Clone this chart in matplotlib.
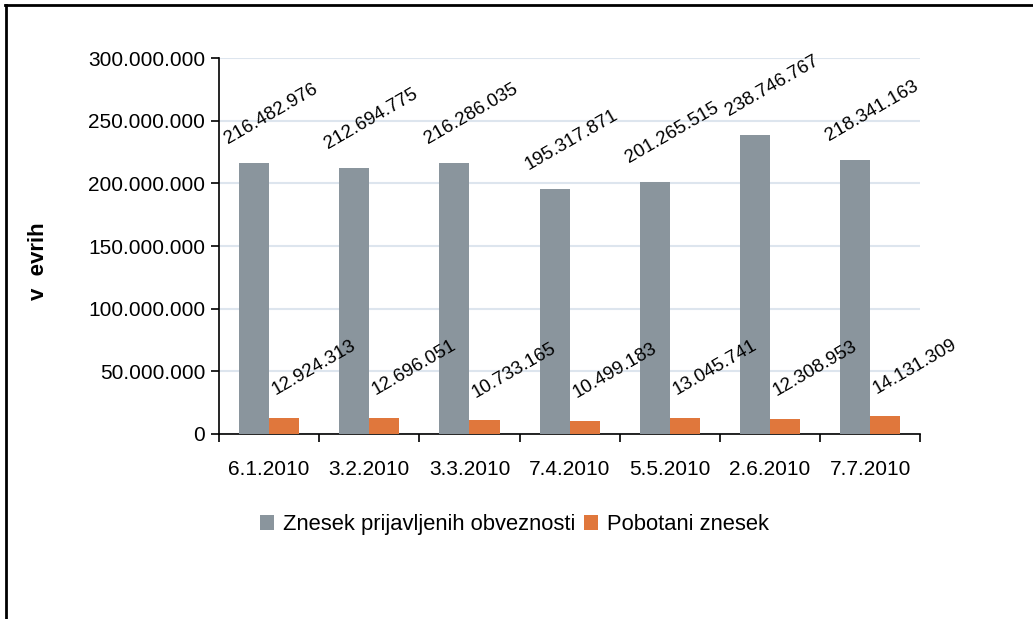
import matplotlib.pyplot as plt
import matplotlib.ticker as mticker
import numpy as np

plt.rcParams['font.family'] = ['Liberation Sans', 'DejaVu Sans']

# Podatki
datumi = ['6.1.2010', '3.2.2010', '3.3.2010', '7.4.2010', '5.5.2010', '2.6.2010', '7.7.2010']
prijavljeno = [216482976, 212694775, 216286035, 195317871, 201265515, 238746767, 218341163]
pobotano = [12924313, 12696051, 10733165, 10499183, 13045741, 12308953, 14131309]
serije = ['Znesek prijavljenih obveznosti', 'Pobotani znesek']
barve = ['#8a959d', '#e0773c']
y_ticks = [0, 50000000, 100000000, 150000000, 200000000, 250000000, 300000000]


def fmt_si(v):
    return f'{v:,.0f}'.replace(',', '.')


fig = plt.figure(figsize=(10.33, 6.19), dpi=100)
ax = fig.add_axes([0.212, 0.299, 0.679, 0.607])

x = np.arange(len(datumi))
w = 0.3
b1 = ax.bar(x - w/2, prijavljeno, w, color=barve[0], label=serije[0], zorder=3)
b2 = ax.bar(x + w/2, pobotano, w, color=barve[1], label=serije[1], zorder=3)

# Oznake podatkov (zasukane)
def oznake(rects, vals, dx, dy):
    for r, v in zip(rects, vals):
        ax.annotate(fmt_si(v), xy=(r.get_x() + r.get_width()/2, r.get_height()),
                    xytext=(dx, dy), textcoords='offset pixels',
                    ha='center', va='center', rotation=30, fontsize=13.5,
                    rotation_mode='anchor', zorder=4)

oznake(b1, prijavljeno, 17, 49)
oznake(b2, pobotano, 30, 50)

ax.set_xlim(-0.5, len(datumi) - 0.5)
ax.set_ylim(0, 300000000)
ax.set_yticks(y_ticks)
ax.yaxis.set_major_formatter(mticker.FuncFormatter(lambda v, p: fmt_si(v)))
ax.set_xticks(x)
ax.set_xticklabels(datumi)
ax.set_xticks(np.arange(len(datumi) + 1) - 0.5, minor=True)
ax.tick_params(axis='x', which='major', length=0, pad=19, labelsize=15)
ax.tick_params(axis='x', which='minor', length=6, width=1.2, direction='out')
ax.tick_params(axis='y', length=6, width=1.2, labelsize=15, pad=4)

ax.grid(axis='y', color='#dde5ee', linewidth=1.5, zorder=0)
for s in ['top', 'right']:
    ax.spines[s].set_visible(False)
for s in ['left', 'bottom']:
    ax.spines[s].set_linewidth(1.2)

ax.set_ylabel('v  evrih', fontsize=16, fontweight='bold')
ax.yaxis.set_label_coords(-0.243, 0.46)

fig.legend(loc='center', bbox_to_anchor=(0.498, 0.152), ncol=2, frameon=False,
           fontsize=15.8, handlelength=0.65, handleheight=0.65, handletextpad=0.4,
           columnspacing=0.4)

# Okvir (levo in zgoraj)
fig.add_artist(plt.Line2D([0.006, 0.006], [0, 0.992], transform=fig.transFigure,
                          color='black', linewidth=2))
fig.add_artist(plt.Line2D([0.005, 1.0], [0.992, 0.992], transform=fig.transFigure,
                          color='black', linewidth=2))

plt.savefig('out.png', dpi=100)
